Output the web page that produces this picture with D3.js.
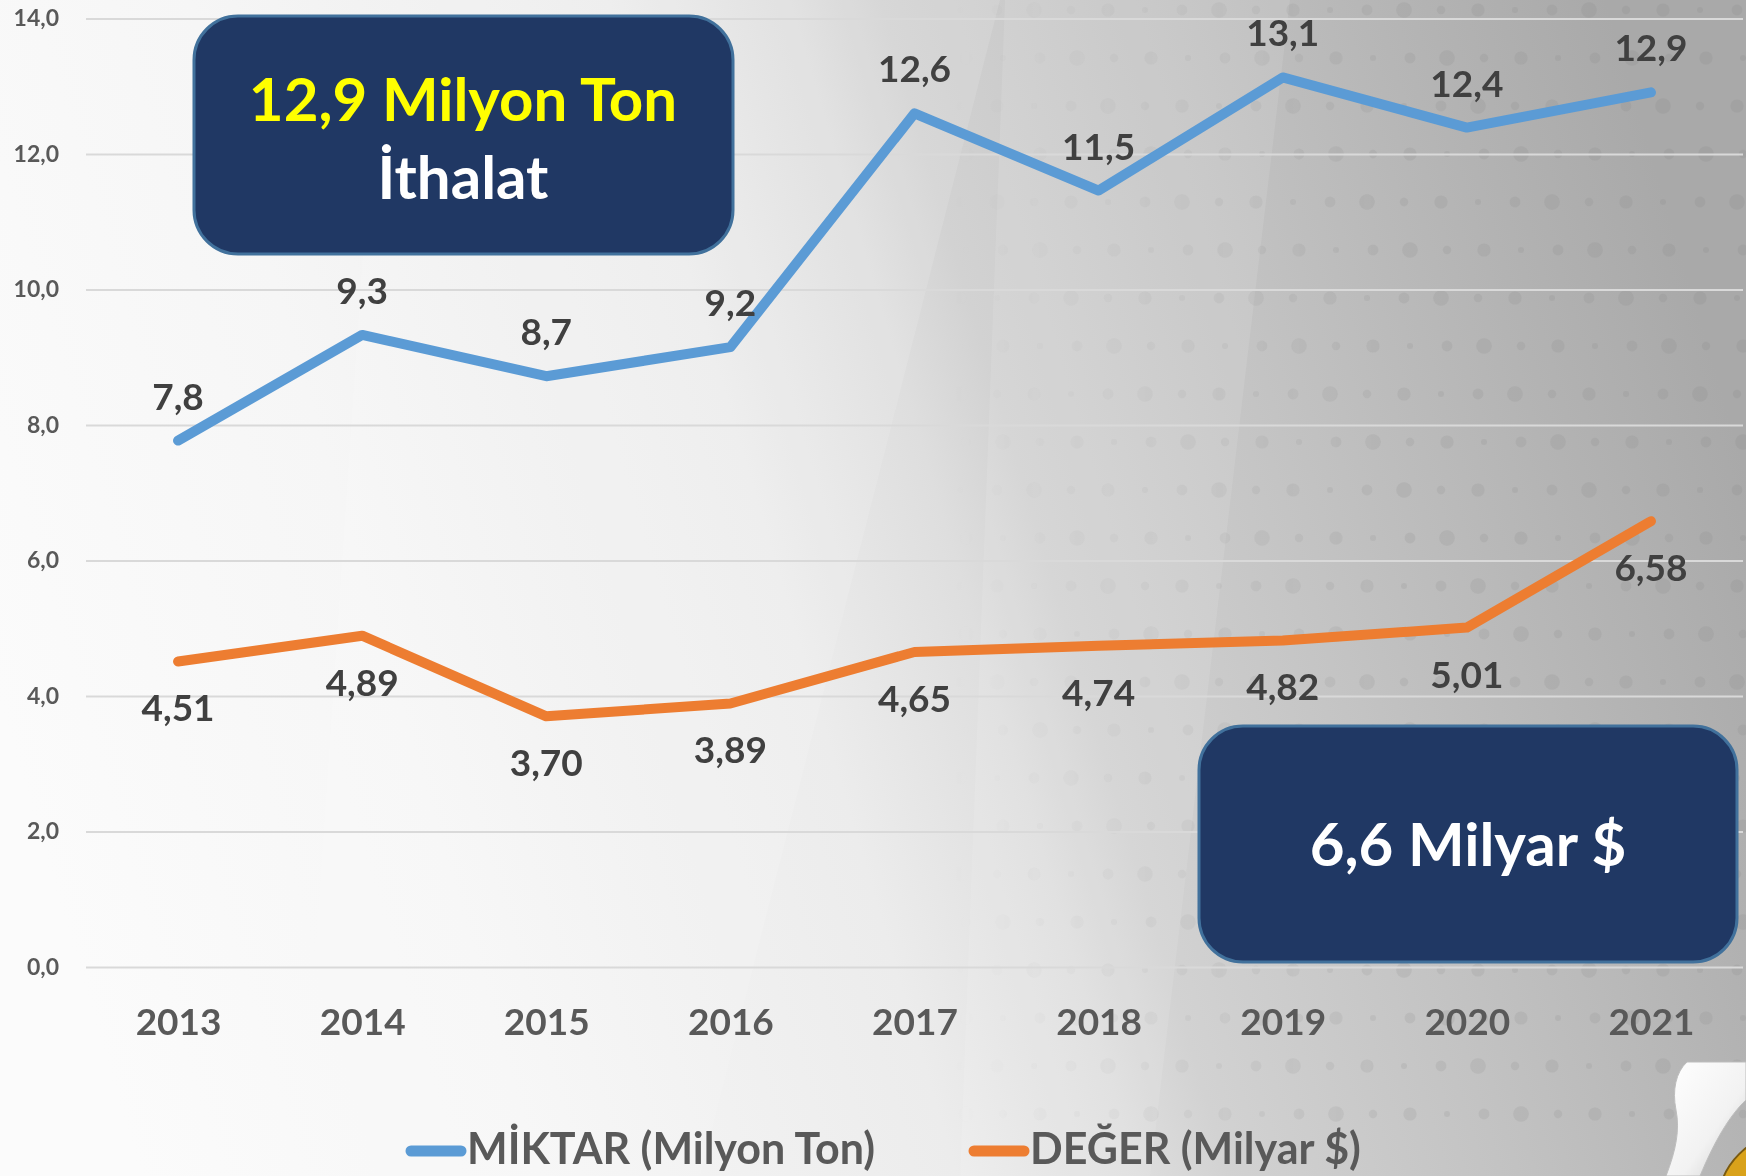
<!DOCTYPE html>
<html>
<head>
<meta charset="utf-8">
<script src="https://cdn.jsdelivr.net/npm/d3@7"></script>
<style>
  html, body { margin: 0; padding: 0; background: #fff; }
  svg { display: block; }
  text { font-family: Lato, "Open Sans", sans-serif; font-weight: 700; }
</style>
</head>
<body>
<svg id="chart" width="1746" height="1176"></svg>
<script>
// ---------- data ----------
const years = ["2013", "2014", "2015", "2016", "2017", "2018", "2019", "2020", "2021"];
const miktar = [7.77, 9.33, 8.72, 9.15, 12.60, 11.46, 13.13, 12.39, 12.91];
const deger = [4.51, 4.89, 3.70, 3.89, 4.65, 4.74, 4.82, 5.01, 6.58];
const miktarLabels = ["7,8", "9,3", "8,7", "9,2", "12,6", "11,5", "13,1", "12,4", "12,9"];
const degerLabels = ["4,51", "4,89", "3,70", "3,89", "4,65", "4,74", "4,82", "5,01", "6,58"];
const yTicks = [0, 2, 4, 6, 8, 10, 12, 14];
const seriesNames = ["MİKTAR (Milyon Ton)", "DEĞER (Milyar $)"];
const box1Lines = ["12,9 Milyon Ton", "İthalat"];
const box2Text = "6,6 Milyar $";

// ---------- setup ----------
const W = 1746, H = 1176;
const svg = d3.select("#chart");
const defs = svg.append("defs");

// background gradient
const bg = defs.append("linearGradient").attr("id", "bg")
  .attr("x1", "0").attr("y1", "0.6").attr("x2", "1").attr("y2", "0.4");
[[0, "#fbfbfb"], [0.22, "#f6f6f6"], [0.45, "#ececec"], [0.55, "#dedede"], [0.6, "#d2d2d2"],
 [0.75, "#c3c3c3"], [0.9, "#b3b3b3"], [1, "#a9a9a9"]].forEach(([o, c]) =>
  bg.append("stop").attr("offset", o).attr("stop-color", c));
svg.append("rect").attr("width", W).attr("height", H).attr("fill", "url(#bg)");

// faint facets
svg.append("path").attr("d", "M1005,0 L1290,0 L1150,1176 L960,1176 Z")
  .attr("fill", "#ffffff").attr("opacity", 0.10);
svg.append("path").attr("d", "M380,0 L1000,0 L700,1176 L300,1176 Z")
  .attr("fill", "#ffffff").attr("opacity", 0.12);

// decorative dot texture (background only)
const fade = defs.append("linearGradient").attr("id", "fade")
  .attr("gradientUnits", "userSpaceOnUse").attr("x1", 950).attr("y1", 0).attr("x2", 1400).attr("y2", 0);
fade.append("stop").attr("offset", 0).attr("stop-color", "#fff").attr("stop-opacity", 0);
fade.append("stop").attr("offset", 1).attr("stop-color", "#fff").attr("stop-opacity", 1);
defs.append("mask").attr("id", "dotmask")
  .append("rect").attr("width", W).attr("height", H).attr("fill", "url(#fade)");
const dotG = svg.append("g").attr("mask", "url(#dotmask)");
for (let j = 0; j < 24; j++) {
  for (let i = 0; i < 22; i++) {
    const cx = 960 + i * 37 + (j % 2) * 6;
    const cy = 10 + j * 48;
    const r = 3 + ((i * 7 + j * 3) % 5) * 1.2;
    dotG.append("circle").attr("cx", cx).attr("cy", cy).attr("r", r)
      .attr("fill", "#7f7f7f").attr("opacity", 0.15);
  }
}

// ---------- scales ----------
const x = d3.scalePoint().domain(years).range([86, 1743]).padding(0.5);
const y = d3.scaleLinear().domain([0, 14]).range([967, 18.5]);
const fmt = d => d.toFixed(1).replace(".", ",");

// y axis + gridlines
const yAxis = svg.append("g").attr("transform", "translate(86,0)")
  .call(d3.axisLeft(y).tickValues(yTicks).tickFormat(fmt).tickSize(-(1743 - 86)).tickPadding(27));
yAxis.select(".domain").remove();
yAxis.selectAll(".tick line").attr("stroke", "#d9d9d9").attr("stroke-width", 2);
yAxis.selectAll(".tick text").attr("fill", "#595959")
  .style("font-size", "23px").style("font-family", "Lato, sans-serif").style("font-weight", 700);

// x axis
const xAxis = svg.append("g").attr("transform", "translate(0,967)")
  .call(d3.axisBottom(x).tickSize(0).tickPadding(0));
xAxis.select(".domain").remove();
xAxis.selectAll(".tick text").attr("y", 55).attr("dy", "0.35em").attr("fill", "#595959")
  .style("font-size", "37px").style("font-family", "Lato, sans-serif").style("font-weight", 700);

// ---------- lines ----------
const line = d3.line().x((d, i) => x(years[i])).y(d => y(d));
const series = [
  { values: miktar, labels: miktarLabels, color: "#5b9bd5", dy: -44 },
  { values: deger, labels: degerLabels, color: "#ed7d31", dy: 47 }
];
series.forEach(s => {
  svg.append("path").datum(s.values).attr("d", line)
    .attr("fill", "none").attr("stroke", s.color).attr("stroke-width", 10)
    .attr("stroke-linejoin", "round").attr("stroke-linecap", "round");
});
series.forEach(s => {
  svg.append("g").selectAll("text").data(s.values).join("text")
    .attr("x", (d, i) => x(years[i]))
    .attr("y", d => y(d) + s.dy)
    .attr("dy", "0.35em")
    .attr("text-anchor", "middle")
    .attr("fill", "#404040")
    .style("font-size", "37px")
    .text((d, i) => s.labels[i]);
});

// ---------- callout boxes ----------
function box(x0, y0, w, h) {
  svg.append("rect").attr("x", x0).attr("y", y0).attr("width", w).attr("height", h)
    .attr("rx", 44).attr("ry", 44)
    .attr("fill", "#203864").attr("stroke", "#41719c").attr("stroke-width", 3);
}
box(194, 16, 539, 238);
svg.append("text").attr("x", 463).attr("y", 121).attr("text-anchor", "middle")
  .attr("fill", "#ffff00").style("font-size", "60px").text(box1Lines[0]);
svg.append("text").attr("x", 463).attr("y", 199).attr("text-anchor", "middle")
  .attr("fill", "#ffffff").style("font-size", "60px").text(box1Lines[1]);

box(1199, 726, 538, 236);
svg.append("text").attr("x", 1468).attr("y", 866).attr("text-anchor", "middle")
  .attr("fill", "#ffffff").style("font-size", "60px").text(box2Text);

// ---------- legend ----------
const legendItems = [
  { name: seriesNames[0], color: "#5b9bd5", x0: 406 },
  { name: seriesNames[1], color: "#ed7d31", x0: 969 }
];
const lg = svg.append("g");
legendItems.forEach(it => {
  lg.append("line").attr("x1", it.x0 + 5).attr("x2", it.x0 + 55).attr("y1", 1151).attr("y2", 1151)
    .attr("stroke", it.color).attr("stroke-width", 11).attr("stroke-linecap", "round");
  lg.append("text").attr("x", it.x0 + 61).attr("y", 1164).attr("fill", "#595959")
    .style("font-size", "43px").text(it.name);
});

// ---------- page curl corner ----------
const curl = defs.append("linearGradient").attr("id", "curl")
  .attr("x1", "0").attr("y1", "0").attr("x2", "1").attr("y2", "1");
curl.append("stop").attr("offset", 0).attr("stop-color", "#ffffff");
curl.append("stop").attr("offset", 0.6).attr("stop-color", "#f2f2f2");
curl.append("stop").attr("offset", 1).attr("stop-color", "#c8c8c8");
svg.append("circle").attr("cx", 1790).attr("cy", 1205).attr("r", 72)
  .attr("fill", "#d9a21b").attr("stroke", "#7a5a10").attr("stroke-width", 2);
svg.append("circle").attr("cx", 1790).attr("cy", 1205).attr("r", 50)
  .attr("fill", "#2e7d32");
svg.append("path")
  .attr("d", "M1687,1062 L1746,1062 L1746,1100 C1730,1115 1715,1140 1700,1176 L1666,1176 C1676,1150 1680,1130 1676,1110 C1672,1090 1676,1072 1687,1062 Z")
  .attr("fill", "url(#curl)").attr("stroke", "#bdbdbd").attr("stroke-width", 1);
</script>
</body>
</html>
